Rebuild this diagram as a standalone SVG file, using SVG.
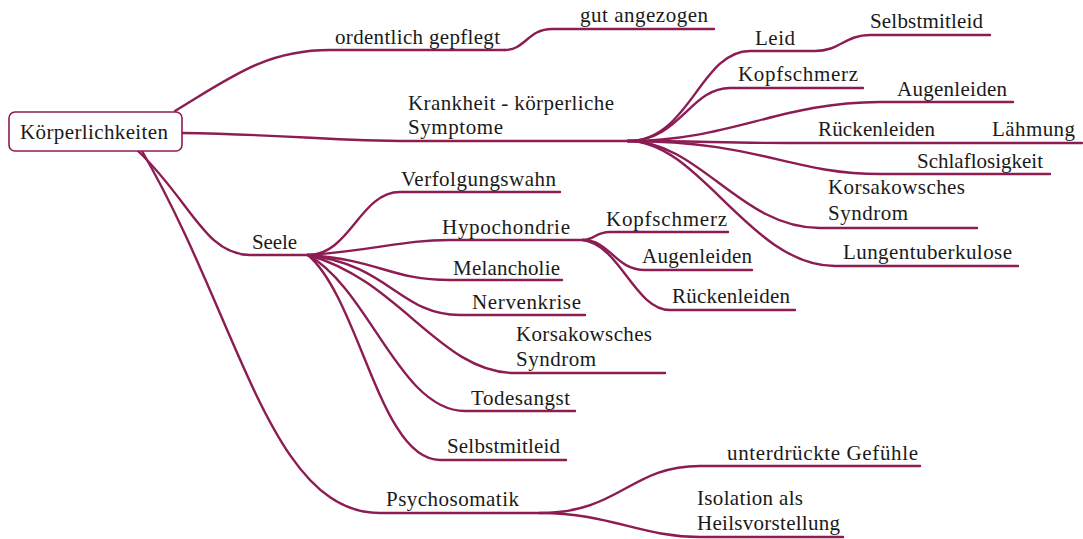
<svg xmlns="http://www.w3.org/2000/svg" width="1083" height="539" viewBox="0 0 1083 539" font-family="Liberation Serif, DejaVu Serif, serif">
  <style>
    .edge { fill: none; stroke: #8c1c52; stroke-width: 2.4; stroke-linecap: round; }
    .lbl { font-size: 21px; fill: #1a1a1a; }
    .root-box { fill: #ffffff; stroke: #8c1c52; stroke-width: 1.6; }
  </style>
  <rect width="1083" height="539" fill="#ffffff"/>

  <!-- connectors -->
  <g id="connectors">
    <!-- root branches -->
    <path class="edge" d="M175,111 C230,78 265,50 330,50 L505,50"/>
    <path class="edge" d="M182,133 C300,135 330,141 410,141 L628,141"/>
    <path class="edge" d="M138,151 C190,200 205,255 250,255 L308,255"/>
    <path class="edge" d="M142,151 C240,320 270,513 380,513 L540,513"/>
    <!-- ordentlich gepflegt -->
    <path class="edge" d="M505,50 C525,50 528,29 552,29 L714,29"/>
    <!-- Krankheit hub -->
    <path class="edge" d="M628,141 C690,141 700,51 750,51 L815,51 C840,51 845,35 870,35 L990,35"/>
    <path class="edge" d="M628,141 C680,141 690,88 730,88 L863,88"/>
    <path class="edge" d="M628,141 C730,141 780,102 880,102 L1013,102"/>
    <path class="edge" d="M628,141 C700,141 720,143 790,143 L945,143 L1082,143"/>
    <path class="edge" d="M628,141 C760,141 790,174 880,174 L1050,174"/>
    <path class="edge" d="M628,141 C700,141 740,228 820,228 L977,228"/>
    <path class="edge" d="M628,141 C700,141 750,266 835,266 L1018,266"/>
    <!-- Seele hub -->
    <path class="edge" d="M308,255 C350,255 360,192 400,192 L560,192"/>
    <path class="edge" d="M308,255 C380,250 400,240 450,240 L583,240"/>
    <path class="edge" d="M308,255 C380,260 390,280 450,280 L562,280"/>
    <path class="edge" d="M308,255 C390,265 400,315 460,315 L585,315"/>
    <path class="edge" d="M308,255 C400,280 440,373 515,373 L665,373"/>
    <path class="edge" d="M308,255 C370,290 400,411 465,411 L575,411"/>
    <path class="edge" d="M308,255 C360,300 380,460 440,460 L566,460"/>
    <!-- Hypochondrie hub -->
    <path class="edge" d="M583,240 C595,240 595,232 610,232 L728,232"/>
    <path class="edge" d="M583,240 C610,240 615,270 645,270 L752,270"/>
    <path class="edge" d="M583,240 C620,245 635,310 670,310 L795,310"/>
    <!-- Psychosomatik hub -->
    <path class="edge" d="M540,513 C620,513 630,466 700,466 L920,466"/>
    <path class="edge" d="M540,513 C610,513 640,537 700,537 L843,537"/>
  </g>

  <!-- nodes -->
  <g id="root">
    <rect class="root-box" x="9" y="112" width="173" height="39" rx="6"/>
    <text class="lbl" x="20" y="139" textLength="148">Körperlichkeiten</text>
  </g>
  <g id="ordentlich"><text class="lbl" x="335" y="44" textLength="165">ordentlich gepflegt</text></g>
  <g id="angezogen"><text class="lbl" x="580" y="22" textLength="128">gut angezogen</text></g>
  <g id="krankheit">
    <text class="lbl" x="408" y="110" textLength="206">Krankheit - körperliche</text>
    <text class="lbl" x="408" y="134" textLength="95">Symptome</text>
  </g>
  <g id="k-leid"><text class="lbl" x="755" y="45" textLength="40">Leid</text></g>
  <g id="k-selbstmitleid"><text class="lbl" x="870" y="28" textLength="113">Selbstmitleid</text></g>
  <g id="k-kopfschmerz"><text class="lbl" x="738" y="81" textLength="120">Kopfschmerz</text></g>
  <g id="k-augenleiden"><text class="lbl" x="897" y="96" textLength="110">Augenleiden</text></g>
  <g id="k-rueckenleiden"><text class="lbl" x="818" y="136" textLength="117">Rückenleiden</text></g>
  <g id="k-laehmung"><text class="lbl" x="992" y="136" textLength="83">Lähmung</text></g>
  <g id="k-schlaflosigkeit"><text class="lbl" x="917" y="168" textLength="126">Schlaflosigkeit</text></g>
  <g id="k-korsakow">
    <text class="lbl" x="828" y="194" textLength="137">Korsakowsches</text>
    <text class="lbl" x="828" y="220" textLength="80">Syndrom</text>
  </g>
  <g id="k-lunge"><text class="lbl" x="843" y="259" textLength="169">Lungentuberkulose</text></g>

  <g id="seele"><text class="lbl" x="252" y="249" textLength="45">Seele</text></g>
  <g id="s-verfolgung"><text class="lbl" x="401" y="186" textLength="155">Verfolgungswahn</text></g>
  <g id="s-hypochondrie"><text class="lbl" x="442" y="234" textLength="128">Hypochondrie</text></g>
  <g id="h-kopfschmerz"><text class="lbl" x="606" y="226" textLength="121">Kopfschmerz</text></g>
  <g id="h-augenleiden"><text class="lbl" x="642" y="263" textLength="110">Augenleiden</text></g>
  <g id="h-rueckenleiden"><text class="lbl" x="672" y="303" textLength="118">Rückenleiden</text></g>
  <g id="s-melancholie"><text class="lbl" x="453" y="275" textLength="107">Melancholie</text></g>
  <g id="s-nervenkrise"><text class="lbl" x="472" y="309" textLength="109">Nervenkrise</text></g>
  <g id="s-korsakow">
    <text class="lbl" x="516" y="341" textLength="136">Korsakowsches</text>
    <text class="lbl" x="516" y="366" textLength="80">Syndrom</text>
  </g>
  <g id="s-todesangst"><text class="lbl" x="471" y="405" textLength="99">Todesangst</text></g>
  <g id="s-selbstmitleid"><text class="lbl" x="447" y="453" textLength="113">Selbstmitleid</text></g>

  <g id="psychosomatik"><text class="lbl" x="386" y="506" textLength="133">Psychosomatik</text></g>
  <g id="p-gefuehle"><text class="lbl" x="727" y="460" textLength="191">unterdrückte Gefühle</text></g>
  <g id="p-isolation">
    <text class="lbl" x="697" y="505" textLength="106">Isolation als</text>
    <text class="lbl" x="697" y="530" textLength="143">Heilsvorstellung</text>
  </g>
</svg>
